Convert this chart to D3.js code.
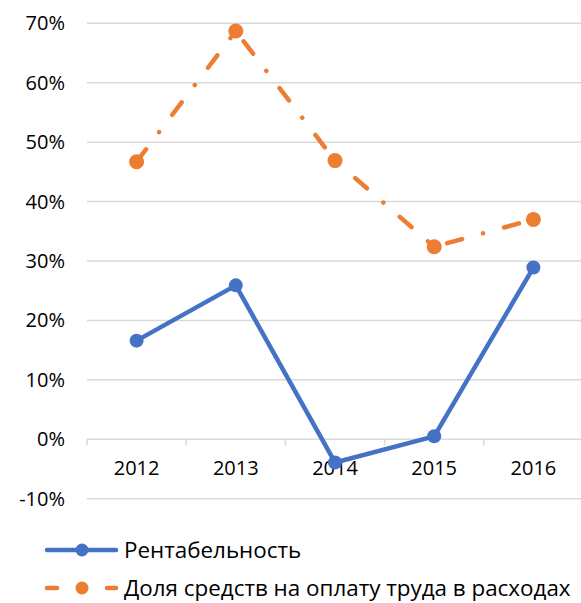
<!DOCTYPE html>
<html>
<head>
<meta charset="utf-8">
<script src="https://cdn.jsdelivr.net/npm/d3@7"></script>
<style>
  body { margin: 0; background: #fff; }
  text { font-family: "Open Sans", "Noto Sans", sans-serif; fill: #000; }
</style>
</head>
<body>
<script>
/* Data
***********************************************************************/
var years = ["2012", "2013", "2014", "2015", "2016"];
var rentab = [0.166, 0.259, -0.039, 0.005, 0.289];
var wageShare = [0.467, 0.687, 0.469, 0.324, 0.370];
var yTicks = [-0.1, 0, 0.1, 0.2, 0.3, 0.4, 0.5, 0.6, 0.7];
var seriesNames = ["Рентабельность", "Доля средств на оплату труда в расходах"];

/* Setup
***********************************************************************/
var svgW = 581;
var svgH = 603;
var blue = "#4472C4";
var orange = "#ED7D31";
var gridColor = "#D9D9D9";
var fontsize = "20px";
var legendFont = "22.4px";
var orangeDash = "15.5 21.75 0.01 21.75";

var svg = d3.select("body").append("svg")
	.attr("width", svgW)
	.attr("height", svgH);

var xScale = d3.scaleBand()
	.domain(years)
	.range([87, 583]);

var yScale = d3.scaleLinear()
	.domain([-0.1, 0.7])
	.range([498.7, 23.3]);

function xc(d) { return xScale(d) + xScale.bandwidth() / 2; }

/* Grid and axes
***********************************************************************/
var gridGroup = svg.append("g").attr("id", "grid");
gridGroup.selectAll("line")
	.data(yTicks)
	.enter().append("line")
	.attr("x1", 87)
	.attr("x2", svgW)
	.attr("y1", function(d) { return yScale(d); })
	.attr("y2", function(d) { return yScale(d); })
	.attr("stroke", gridColor)
	.attr("stroke-width", 1.5);

// y labels
svg.append("g").selectAll("text")
	.data(yTicks)
	.enter().append("text")
	.attr("x", 65)
	.attr("y", function(d) { return yScale(d); })
	.attr("dy", "0.35em")
	.attr("text-anchor", "end")
	.attr("font-size", fontsize)
	.text(function(d) { return Math.round(d * 100) + "%"; });

// x tick marks at band edges
var edges = years.map(function(d) { return xScale(d); }).concat([xScale.range()[1]]);
svg.append("g").selectAll("line")
	.data(edges)
	.enter().append("line")
	.attr("x1", function(d) { return d; })
	.attr("x2", function(d) { return d; })
	.attr("y1", yScale(0))
	.attr("y2", yScale(0) + 6)
	.attr("stroke", gridColor)
	.attr("stroke-width", 1.5);

// x labels
svg.append("g").selectAll("text")
	.data(years)
	.enter().append("text")
	.attr("x", xc)
	.attr("y", yScale(0) + 29)
	.attr("dy", "0.35em")
	.attr("text-anchor", "middle")
	.attr("font-size", fontsize)
	.text(function(d) { return d; });

/* Series
***********************************************************************/
var line = d3.line()
	.x(function(d) { return xc(d.year); })
	.y(function(d) { return yScale(d.v); });

function toPts(arr) {
	return years.map(function(y, i) { return {year: y, v: arr[i]}; });
}

function drawSeries(arr, color, dash, r) {
	var g = svg.append("g");
	g.append("path")
		.attr("d", line(toPts(arr)))
		.attr("fill", "none")
		.attr("stroke", color)
		.attr("stroke-width", 4.5)
		.attr("stroke-linecap", "round")
		.attr("stroke-linejoin", "round")
		.attr("stroke-dasharray", dash);
	g.selectAll("circle")
		.data(toPts(arr))
		.enter().append("circle")
		.attr("cx", function(d) { return xc(d.year); })
		.attr("cy", function(d) { return yScale(d.v); })
		.attr("r", r)
		.attr("fill", color);
}

drawSeries(wageShare, orange, orangeDash, 7.5);
drawSeries(rentab, blue, null, 7);

/* Legend
***********************************************************************/
var legend = svg.append("g").attr("id", "legend");
var legendRows = [
	{name: seriesNames[0], color: blue, y: 550, dash: null, r: 6.5},
	{name: seriesNames[1], color: orange, y: 588, dash: orangeDash, r: 6.5}
];
function legendLine(x1, x2, row) {
	legend.append("line")
		.attr("x1", x1).attr("x2", x2)
		.attr("y1", row.y).attr("y2", row.y)
		.attr("stroke", row.color).attr("stroke-width", 4.5)
		.attr("stroke-linecap", "round");
}
legendRows.forEach(function(row) {
	if (row.dash) {
		legendLine(47, 57, row);
		legendLine(107, 116, row);
	} else {
		legendLine(47, 116, row);
	}
	legend.append("circle")
		.attr("cx", 82).attr("cy", row.y).attr("r", row.r)
		.attr("fill", row.color);
	legend.append("text")
		.attr("x", 124)
		.attr("y", row.y)
		.attr("dy", "0.35em")
		.attr("font-size", legendFont)
		.text(row.name);
});
</script>
</body>
</html>
